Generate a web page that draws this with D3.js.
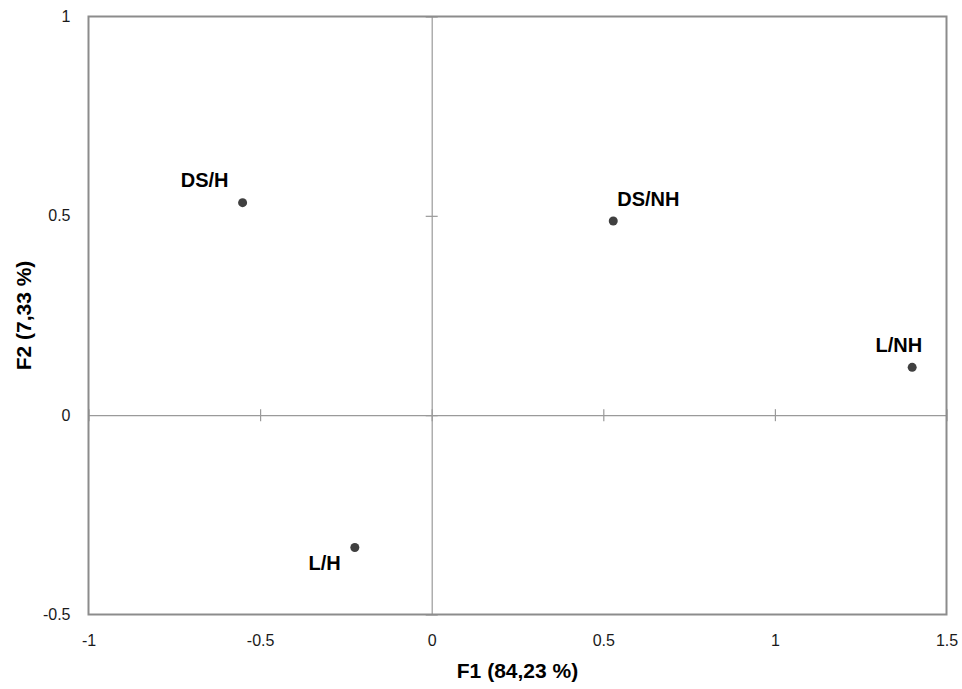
<!DOCTYPE html>
<html>
<head>
<meta charset="utf-8">
<script src="https://cdn.jsdelivr.net/npm/d3@7"></script>
<style>
  body { margin: 0; background: #fff; }
  svg { display: block; font-family: "Liberation Sans", Arial, sans-serif; }
</style>
</head>
<body>
<svg id="chart" width="962" height="689"></svg>
<script>
// observations on the first two factors
const names = ['DS/H', 'DS/NH', 'L/NH', 'L/H'];
const f1 = [-0.551, 0.529, 1.40, -0.224];
const f2 = [0.533, 0.487, 0.120, -0.332];

const xTicks = [-1, -0.5, 0, 0.5, 1, 1.5];
const yTicks = [-0.5, 0, 0.5, 1];
const xTitle = 'F1 (84,23 %)';
const yTitle = 'F2 (7,33 %)';

// where each label sits around its point
const labelPlace = {
  'DS/H':  { dx: -38, dy: -16, anchor: 'middle' },
  'DS/NH': { dx: 4,   dy: -15, anchor: 'start' },
  'L/NH':  { dx: 10,  dy: -15, anchor: 'end' },
  'L/H':   { dx: -14, dy: 22,  anchor: 'end' }
};

const svg = d3.select('#chart');
const plotL = 88.5, plotR = 946.5, plotT = 16.5, plotB = 614.5;

const x = d3.scaleLinear().domain([-1, 1.5]).range([plotL, plotR]);
const y = d3.scaleLinear().domain([-0.5, 1]).range([plotB, plotT]);

// zero lines with crossing ticks
const xZero = svg.append('g')
    .attr('transform', `translate(0,${y(0)})`)
    .call(d3.axisBottom(x).tickValues(xTicks).tickSizeOuter(0).tickFormat(''));
const yZero = svg.append('g')
    .attr('transform', `translate(${x(0)},0)`)
    .call(d3.axisLeft(y).tickValues(yTicks).tickSizeOuter(0).tickFormat(''));

xZero.selectAll('.tick line').attr('y1', -6).attr('y2', 6);
yZero.selectAll('.tick line').attr('x1', -6).attr('x2', 6);
[xZero, yZero].forEach(g => {
  g.select('.domain').attr('stroke', '#9a9a9a').attr('stroke-width', 1.2);
  g.selectAll('.tick line').attr('stroke', '#9a9a9a').attr('stroke-width', 1.2);
});

// plot frame
svg.append('rect')
    .attr('x', plotL).attr('y', plotT)
    .attr('width', plotR - plotL).attr('height', plotB - plotT)
    .attr('fill', 'none')
    .attr('stroke', '#8c8c8c')
    .attr('stroke-width', 2);

// tick labels along the frame
const xAxis = svg.append('g')
    .attr('transform', `translate(0,${plotB})`)
    .call(d3.axisBottom(x).tickValues(xTicks).tickSize(0).tickPadding(20).tickFormat(d => String(d)));
const yAxis = svg.append('g')
    .attr('transform', `translate(${plotL},0)`)
    .call(d3.axisLeft(y).tickValues(yTicks).tickSize(0).tickPadding(18).tickFormat(d => String(d)));
[xAxis, yAxis].forEach(g => {
  g.select('.domain').remove();
  g.selectAll('text')
      .attr('font-family', '"Liberation Sans", Arial, sans-serif')
      .attr('font-size', 16)
      .attr('fill', '#1a1a1a');
});

// axis titles
svg.append('text')
    .attr('x', (plotL + plotR) / 2).attr('y', 678)
    .attr('text-anchor', 'middle')
    .attr('font-size', 21).attr('font-weight', 'bold')
    .text(xTitle);
svg.append('text')
    .attr('transform', `translate(31,${(plotT + plotB) / 2}) rotate(-90)`)
    .attr('text-anchor', 'middle')
    .attr('font-size', 21).attr('font-weight', 'bold')
    .text(yTitle);

// points and labels
const pts = names.map((n, i) => ({ name: n, f1: f1[i], f2: f2[i] }));

svg.selectAll('.pt')
    .data(pts)
    .enter()
    .append('circle')
    .attr('class', 'pt')
    .attr('cx', d => x(d.f1))
    .attr('cy', d => y(d.f2))
    .attr('r', 4.5)
    .attr('fill', '#404040');

svg.selectAll('.lbl')
    .data(pts)
    .enter()
    .append('text')
    .attr('class', 'lbl')
    .attr('x', d => x(d.f1) + labelPlace[d.name].dx)
    .attr('y', d => y(d.f2) + labelPlace[d.name].dy)
    .attr('text-anchor', d => labelPlace[d.name].anchor)
    .attr('font-size', 20)
    .attr('font-weight', 'bold')
    .attr('fill', '#000')
    .text(d => d.name);
</script>
</body>
</html>
